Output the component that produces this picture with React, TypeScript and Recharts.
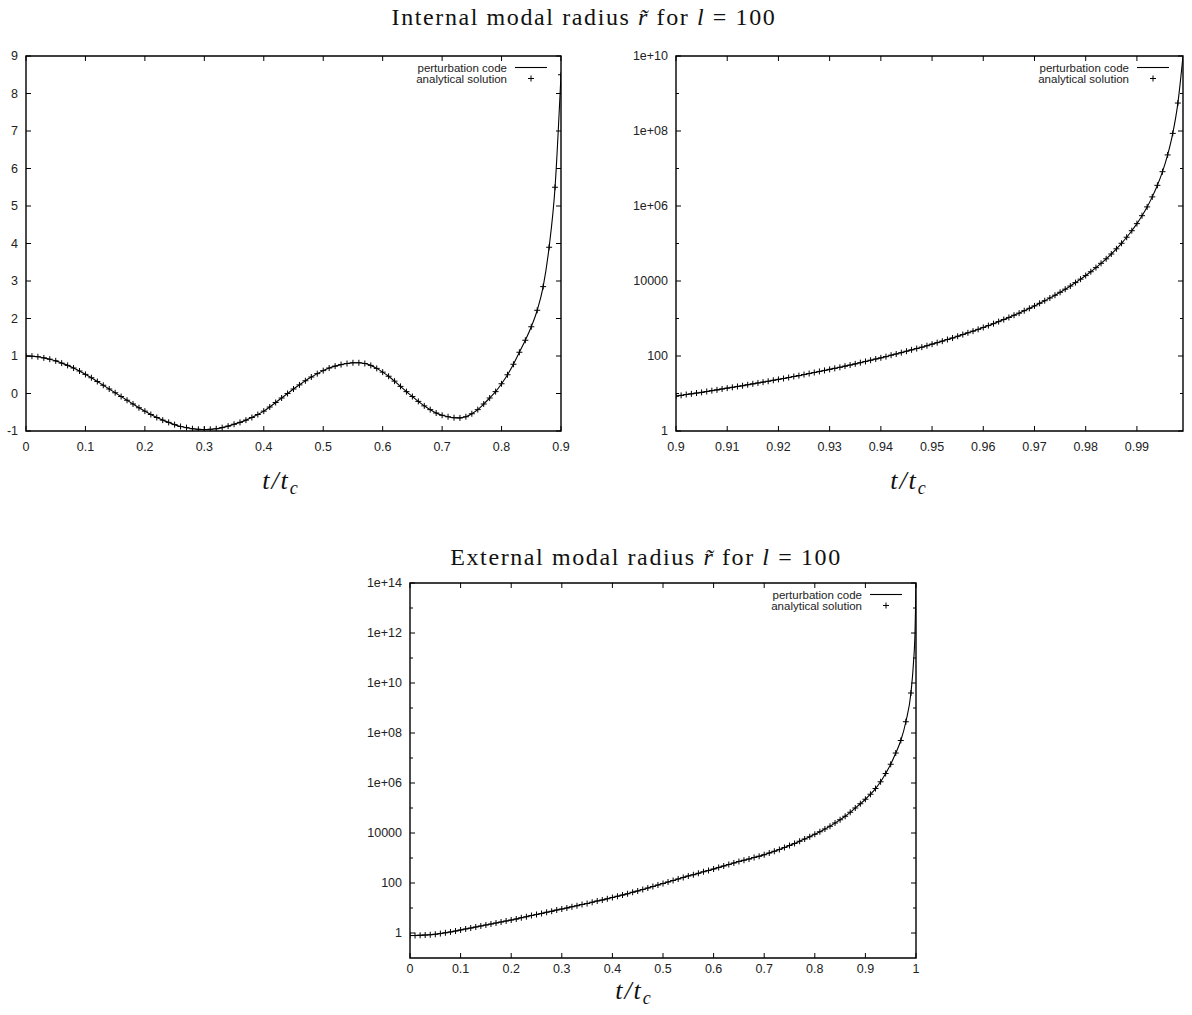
import React from 'react';
import { ComposedChart, Line, XAxis, YAxis, ReferenceArea } from 'recharts';

// ---------- Panel 1: internal modal radius, t/tc in [0, 0.9] ----------
const intT = [
  0, 0.01, 0.02, 0.03, 0.04, 0.05, 0.06, 0.07, 0.08, 0.09,
  0.1, 0.11, 0.12, 0.13, 0.14, 0.15, 0.16, 0.17, 0.18, 0.19,
  0.2, 0.21, 0.22, 0.23, 0.24, 0.25, 0.26, 0.27, 0.28, 0.29,
  0.3, 0.31, 0.32, 0.33, 0.34, 0.35, 0.36, 0.37, 0.38, 0.39,
  0.4, 0.41, 0.42, 0.43, 0.44, 0.45, 0.46, 0.47, 0.48, 0.49,
  0.5, 0.51, 0.52, 0.53, 0.54, 0.55, 0.56, 0.57, 0.58, 0.59,
  0.6, 0.61, 0.62, 0.63, 0.64, 0.65, 0.66, 0.67, 0.68, 0.69,
  0.7, 0.71, 0.72, 0.73, 0.74, 0.75, 0.76, 0.77, 0.78, 0.79,
  0.8, 0.81, 0.82, 0.83, 0.84, 0.85, 0.86, 0.87, 0.88, 0.89,
  0.9,
];
const intR = [
  1.0, 0.995, 0.98, 0.95, 0.915, 0.87, 0.81, 0.75, 0.68, 0.6,
  0.51, 0.42, 0.32, 0.22, 0.12, 0.02, -0.08, -0.18, -0.28, -0.38,
  -0.47, -0.56, -0.64, -0.71, -0.77, -0.83, -0.88, -0.91, -0.94, -0.955,
  -0.96, -0.955, -0.94, -0.91, -0.87, -0.82, -0.77, -0.71, -0.64, -0.56,
  -0.47, -0.36, -0.24, -0.12, 0.0, 0.12, 0.23, 0.34, 0.44, 0.53,
  0.61, 0.68, 0.73, 0.77, 0.8, 0.82, 0.82, 0.8, 0.75, 0.67,
  0.57, 0.46, 0.33, 0.19, 0.05, -0.08, -0.21, -0.33, -0.43, -0.52,
  -0.58, -0.62, -0.645, -0.65, -0.62, -0.54, -0.43, -0.28, -0.12, 0.05,
  0.26, 0.5, 0.78, 1.1, 1.42, 1.78, 2.22, 2.85, 3.9, 5.5,
  8.5,
];

// ---------- Panel 2: internal modal radius, t/tc in [0.9, 0.999], log ----------
const intLogT = [
  0.9, 0.901, 0.902, 0.903, 0.904, 0.905, 0.906, 0.907, 0.908, 0.909,
  0.91, 0.911, 0.912, 0.913, 0.914, 0.915, 0.916, 0.917, 0.918, 0.919,
  0.92, 0.921, 0.922, 0.923, 0.924, 0.925, 0.926, 0.927, 0.928, 0.929,
  0.93, 0.931, 0.932, 0.933, 0.934, 0.935, 0.936, 0.937, 0.938, 0.939,
  0.94, 0.941, 0.942, 0.943, 0.944, 0.945, 0.946, 0.947, 0.948, 0.949,
  0.95, 0.951, 0.952, 0.953, 0.954, 0.955, 0.956, 0.957, 0.958, 0.959,
  0.96, 0.961, 0.962, 0.963, 0.964, 0.965, 0.966, 0.967, 0.968, 0.969,
  0.97, 0.971, 0.972, 0.973, 0.974, 0.975, 0.976, 0.977, 0.978, 0.979,
  0.98, 0.981, 0.982, 0.983, 0.984, 0.985, 0.986, 0.987, 0.988, 0.989,
  0.99, 0.991, 0.992, 0.993, 0.994, 0.995, 0.996, 0.997, 0.998, 0.999,
];
const intLogR = [
  8.5, 8.9, 9.4, 9.8, 10.3, 10.7, 11.3, 11.9, 12.5, 13.2,
  13.9, 14.6, 15.4, 16.1, 17.1, 18.1, 19.1, 20.1, 21.2, 22.5,
  23.8, 25.1, 26.7, 28.4, 30.0, 32.0, 34.1, 36.3, 38.7, 41.2,
  44.0, 46.9, 49.9, 53.7, 57.3, 61.7, 66.4, 71.6, 77.1, 83.0,
  89.3, 96.2, 105, 113, 123, 134, 146, 158, 172, 188,
  207, 227, 249, 275, 302, 336, 373, 415, 461, 513,
  577, 647, 728, 826, 938, 1067, 1222, 1390, 1611, 1866,
  2168, 2541, 2979, 3524, 4178, 5000, 6053, 7328, 9057, 11190,
  13960, 17660, 22750, 29650, 39080, 52480, 72110, 101400, 146900, 219300,
  338800, 552100, 946200, 1.75e6, 3.56e6, 8.22e6, 2.3e7, 8.63e7, 5.56e8, 1e10,
];

// ---------- Panel 3: external modal radius, t/tc in [0, 1], log ----------
const extT = [
  0, 0.01, 0.02, 0.03, 0.04, 0.05, 0.06, 0.07, 0.08, 0.09,
  0.1, 0.11, 0.12, 0.13, 0.14, 0.15, 0.16, 0.17, 0.18, 0.19,
  0.2, 0.21, 0.22, 0.23, 0.24, 0.25, 0.26, 0.27, 0.28, 0.29,
  0.3, 0.31, 0.32, 0.33, 0.34, 0.35, 0.36, 0.37, 0.38, 0.39,
  0.4, 0.41, 0.42, 0.43, 0.44, 0.45, 0.46, 0.47, 0.48, 0.49,
  0.5, 0.51, 0.52, 0.53, 0.54, 0.55, 0.56, 0.57, 0.58, 0.59,
  0.6, 0.61, 0.62, 0.63, 0.64, 0.65, 0.66, 0.67, 0.68, 0.69,
  0.7, 0.71, 0.72, 0.73, 0.74, 0.75, 0.76, 0.77, 0.78, 0.79,
  0.8, 0.81, 0.82, 0.83, 0.84, 0.85, 0.86, 0.87, 0.88, 0.89,
  0.9, 0.91, 0.92, 0.93, 0.94, 0.95, 0.96, 0.97, 0.98, 0.99,
];
const extR = [
  0.79, 0.79, 0.81, 0.83, 0.85, 0.89, 0.95, 1.02, 1.1, 1.2,
  1.32, 1.45, 1.58, 1.74, 1.91, 2.09, 2.29, 2.51, 2.75, 3.02,
  3.31, 3.63, 4.07, 4.47, 5.01, 5.5, 6.03, 6.76, 7.41, 8.32,
  9.12, 10.0, 11.2, 12.3, 13.8, 15.1, 17.0, 19.1, 20.9, 23.4,
  26.3, 29.5, 33.1, 37.2, 42.7, 47.9, 55.0, 63.1, 72.4, 83.2,
  95.5, 110, 126, 145, 166, 191, 214, 245, 282, 316,
  363, 417, 479, 550, 631, 724, 813, 912, 1047, 1175,
  1349, 1585, 1862, 2188, 2630, 3162, 3802, 4677, 5754, 7079,
  8913, 11220, 14450, 18620, 25120, 33880, 46770, 67610, 1.0e5, 1.48e5,
  2.24e5, 3.55e5, 6.0e5, 1.12e6, 2.4e6, 5.62e6, 1.58e7, 5.01e7, 2.82e8, 3.98e9,
];
// perturbation-code curve continues past the last analytical point
const extTailT = [0.995, 0.998, 0.999, 1];
const extTailR = [6.3e10, 1e12, 7.9e12, 1e14];

// ---------- ticks ----------
const xTicks1 = [0, 0.1, 0.2, 0.3, 0.4, 0.5, 0.6, 0.7, 0.8, 0.9];
const xLabels1 = ['0', '0.1', '0.2', '0.3', '0.4', '0.5', '0.6', '0.7', '0.8', '0.9'];
const yTicks1 = [-1, 0, 1, 2, 3, 4, 5, 6, 7, 8, 9];
const yLabels1 = ['-1', '0', '1', '2', '3', '4', '5', '6', '7', '8', '9'];

const xTicks2 = [0.9, 0.91, 0.92, 0.93, 0.94, 0.95, 0.96, 0.97, 0.98, 0.99];
const xLabels2 = ['0.9', '0.91', '0.92', '0.93', '0.94', '0.95', '0.96', '0.97', '0.98', '0.99'];
const yTicks2 = [1, 10, 100, 1e3, 1e4, 1e5, 1e6, 1e7, 1e8, 1e9, 1e10];
const yLabels2 = ['1', '', '100', '', '10000', '', '1e+06', '', '1e+08', '', '1e+10'];

const xTicks3 = [0, 0.1, 0.2, 0.3, 0.4, 0.5, 0.6, 0.7, 0.8, 0.9, 1];
const xLabels3 = ['0', '0.1', '0.2', '0.3', '0.4', '0.5', '0.6', '0.7', '0.8', '0.9', '1'];
const yTicks3 = [1, 10, 100, 1e3, 1e4, 1e5, 1e6, 1e7, 1e8, 1e9, 1e10, 1e11, 1e12, 1e13, 1e14];
const yLabels3 = ['1', '', '100', '', '10000', '', '1e+06', '', '1e+08', '', '1e+10', '', '1e+12', '', '1e+14'];

const legendLabels = ['perturbation code', 'analytical solution'];
const title1 = ['Internal modal radius ', 'r\u0303', ' for ', 'l', ' = 100'];
const title2 = ['External modal radius ', 'r\u0303', ' for ', 'l', ' = 100'];

// tables
const table1 = intT.map((t, i) => ({ t, v: intR[i], m: intR[i] }));
const table2 = intLogT.map((t, i) => ({ t, v: intLogR[i], m: i < intLogT.length - 1 ? intLogR[i] : undefined }));
const table3 = [
  ...extT.map((t, i) => ({ t, v: extR[i], m: extR[i] })),
  ...extTailT.map((t, i) => ({ t, v: extTailR[i], m: undefined })),
];

const SANS = 'Liberation Sans, Arial, Helvetica, sans-serif';
const SERIF = 'Liberation Serif, Times New Roman, serif';

const renderPlus = (p: any) => {
  const { cx, cy, index } = p;
  if (cx == null || cy == null || Number.isNaN(cx) || Number.isNaN(cy)) return <g key={`n${index}`} />;
  return (
    <g key={`p${index}`}>
      <line x1={cx - 3} x2={cx + 3} y1={cy} y2={cy} stroke="#000" strokeWidth={1} />
      <line x1={cx} x2={cx} y1={cy - 3} y2={cy + 3} stroke="#000" strokeWidth={1} />
    </g>
  );
};

const XTick = (p: any) => {
  const { x, y, index, labels, plotH, labelDy } = p;
  return (
    <g>
      <line x1={x} x2={x} y1={y} y2={y - 5} stroke="#000" strokeWidth={1} />
      <line x1={x} x2={x} y1={y - plotH} y2={y - plotH + 5} stroke="#000" strokeWidth={1} />
      <text x={x} y={y + labelDy} textAnchor="middle" dominantBaseline="central" fontFamily={SANS} fontSize={12.5} fill="#222">
        {labels[index]}
      </text>
    </g>
  );
};

const YTick = (p: any) => {
  const { x, y, index, labels, plotW } = p;
  const lab = labels[index];
  const len = lab === '' ? 3 : 5;
  return (
    <g>
      <line x1={x} x2={x + len} y1={y} y2={y} stroke="#000" strokeWidth={1} />
      <line x1={x + plotW - len} x2={x + plotW} y1={y} y2={y} stroke="#000" strokeWidth={1} />
      <text x={x - 8} y={y} textAnchor="end" dominantBaseline="central" fontFamily={SANS} fontSize={12.5} fill="#222">
        {lab}
      </text>
    </g>
  );
};

type PanelProps = {
  left: number; top: number; width: number; height: number;
  margin: { top: number; right: number; bottom: number; left: number };
  yAxisWidth: number; data: any[];
  xDomain: [number, number]; yDomain: [number, number]; logY: boolean;
  xTicks: number[]; xLabels: string[]; yTicks: number[]; yLabels: string[];
  plotW: number; plotH: number; labelDy: number;
};

function Panel(props: PanelProps) {
  const { left, top, width, height, margin, yAxisWidth, data, xDomain, yDomain, logY, xTicks, xLabels, yTicks, yLabels, plotW, plotH, labelDy } = props;
  return (
    <div style={{ position: 'absolute', left, top, width, height }}>
      <ComposedChart width={width} height={height} data={data} margin={margin}>
        <XAxis
          dataKey="t"
          type="number"
          domain={xDomain}
          ticks={xTicks}
          interval={0}
          tickSize={0}
          tickMargin={0}
          axisLine={false}
          tickLine={false}
          height={30}
          allowDataOverflow
          tick={(p: any) => <XTick {...p} labels={xLabels} plotH={plotH} labelDy={labelDy} />}
        />
        <YAxis
          type="number"
          scale={logY ? 'log' : 'linear'}
          domain={yDomain}
          ticks={yTicks}
          interval={0}
          tickSize={0}
          tickMargin={0}
          axisLine={false}
          tickLine={false}
          width={yAxisWidth}
          allowDataOverflow
          tick={(p: any) => <YTick {...p} labels={yLabels} plotW={plotW} />}
        />
        <ReferenceArea x1={xDomain[0]} x2={xDomain[1]} y1={yDomain[0]} y2={yDomain[1]} fill="none" fillOpacity={0} stroke="#000" strokeWidth={1.4} ifOverflow="visible" />
        <Line dataKey="v" type="monotone" stroke="#000" strokeWidth={1.1} dot={false} activeDot={false} isAnimationActive={false} />
        <Line dataKey="m" stroke="none" dot={renderPlus} activeDot={false} isAnimationActive={false} />
      </ComposedChart>
    </div>
  );
}

function Legend({ right, top }: { right: number; top: number }) {
  const y1 = top + 11.5;
  const y2 = top + 22.5;
  return (
    <g>
      <text x={right - 54} y={y1} textAnchor="end" dominantBaseline="central" fontFamily={SANS} fontSize={11.5} fill="#222">{legendLabels[0]}</text>
      <line x1={right - 46} x2={right - 14} y1={y1} y2={y1} stroke="#000" strokeWidth={1.1} />
      <text x={right - 54} y={y2} textAnchor="end" dominantBaseline="central" fontFamily={SANS} fontSize={11.5} fill="#222">{legendLabels[1]}</text>
      <line x1={right - 33} x2={right - 27} y1={y2} y2={y2} stroke="#000" strokeWidth={1} />
      <line x1={right - 30} x2={right - 30} y1={y2 - 3} y2={y2 + 3} stroke="#000" strokeWidth={1} />
    </g>
  );
}

function Title({ x, y, parts }: { x: number; y: number; parts: string[] }) {
  return (
    <text x={x} y={y} textAnchor="middle" fontFamily={SERIF} fontSize={24} letterSpacing={1.6} fill="#111">
      {parts[0]}
      <tspan fontStyle="italic">{parts[1]}</tspan>
      {parts[2]}
      <tspan fontStyle="italic">{parts[3]}</tspan>
      {parts[4]}
    </text>
  );
}

function AxisName({ x, y }: { x: number; y: number }) {
  return (
    <text x={x} y={y} textAnchor="middle" fontFamily={SERIF} fontStyle="italic" fontSize={26} letterSpacing={2} fill="#111">
      t/t<tspan fontSize={18} dy={5}>c</tspan>
    </text>
  );
}

export default function App() {
  return (
    <div style={{ position: 'absolute', left: 0, top: 0, width: 1192, height: 1015, background: '#fff', overflow: 'hidden' }}>
      <Panel
        left={0} top={0} width={600} height={470}
        margin={{ top: 56, right: 39, bottom: 9, left: 0 }}
        yAxisWidth={26} data={table1}
        xDomain={[0, 0.9]} yDomain={[-1, 9]} logY={false}
        xTicks={xTicks1} xLabels={xLabels1} yTicks={yTicks1} yLabels={yLabels1}
        plotW={535} plotH={375} labelDy={16}
      />
      <Panel
        left={600} top={0} width={592} height={470}
        margin={{ top: 56, right: 9, bottom: 9, left: 0 }}
        yAxisWidth={76} data={table2}
        xDomain={[0.9, 0.999]} yDomain={[1, 1e10]} logY={true}
        xTicks={xTicks2} xLabels={xLabels2} yTicks={yTicks2} yLabels={yLabels2}
        plotW={507} plotH={375} labelDy={16}
      />
      <Panel
        left={300} top={520} width={650} height={470}
        margin={{ top: 63, right: 34, bottom: 2, left: 0 }}
        yAxisWidth={110} data={table3}
        xDomain={[0, 1]} yDomain={[0.1, 1e14]} logY={true}
        xTicks={xTicks3} xLabels={xLabels3} yTicks={yTicks3} yLabels={yLabels3}
        plotW={506} plotH={375} labelDy={11}
      />
      <svg width={1192} height={1015} style={{ position: 'absolute', left: 0, top: 0, pointerEvents: 'none' }}>
        <Title x={584} y={25} parts={title1} />
        <Title x={646} y={565} parts={title2} />
        <AxisName x={281} y={489} />
        <AxisName x={909} y={489} />
        <AxisName x={634} y={999} />
        <Legend right={561} top={56} />
        <Legend right={1183} top={56} />
        <Legend right={916} top={583} />
      </svg>
    </div>
  );
}
